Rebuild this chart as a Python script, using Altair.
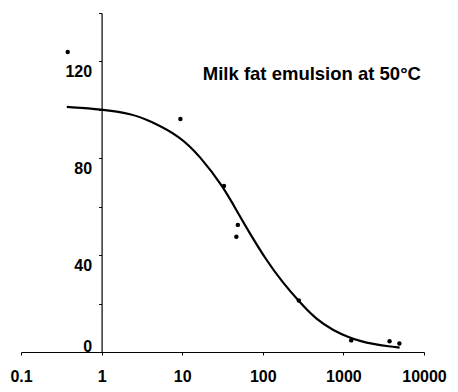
import altair as alt
import pandas as pd

# Measured points
pt_x = [0.38, 9.5, 33, 49, 47, 280, 1250, 3740, 4950]
pt_y = [123.9, 96.2, 68.6, 52.5, 47.6, 21.3, 4.8, 4.4, 3.5]

# Fitted curve
cv_x = [0.37, 1, 2.4, 3.9, 9.5, 16.4, 32, 51.5, 68.6, 110, 177, 286, 461, 741, 1194, 1588, 2322, 3737, 4980]
cv_y = [101.2, 100.3, 98.3, 95.6, 89.0, 81.0, 68.6, 56.2, 49.2, 38.0, 28.6, 20.6, 13.4, 9.0, 5.9, 4.6, 3.3, 2.3, 1.8]

x_ticks = [0.1, 1, 10, 100, 1000, 10000]
y_ticks = [0, 20, 40, 60, 80, 100, 120, 140]

title_text = ["Milk fat emulsion at 50\u00b0C"]
title_x = [18]
title_y = [115]

FONT = "Liberation Sans"

pts = pd.DataFrame({"x": pt_x, "y": pt_y})
cv = pd.DataFrame({"x": cv_x, "y": cv_y})
lab = pd.DataFrame({"x": title_x, "y": title_y, "t": title_text})

xscale = alt.Scale(type="log", domain=[0.1, 10000], nice=False)
yscale = alt.Scale(domain=[0, 140], nice=False)

xaxis = alt.Axis(
    values=x_ticks, format="~g", title=None, grid=False,
    domainColor="black", domainWidth=1.2, tickColor="black", tickSize=3,
    labelFont=FONT, labelFontSize=16, labelFontWeight="bold", labelColor="black",
    labelPadding=13, labelFlush=False, labelOverlap=False,
)
yaxis = alt.Axis(
    values=y_ticks, title=None, grid=False, offset=-80.6,
    labelExpr="(datum.value % 40 == 0 && datum.value < 140) ? datum.label : ''",
    domainColor="black", domainWidth=1.2, tickColor="black", tickSize=3,
    labelFont=FONT, labelFontSize=16, labelFontWeight="bold", labelColor="black",
    labelPadding=7, labelOffset=2,
    labelBaseline={"condition": {"test": "datum.value == 0", "value": "bottom"}, "value": "top"},
)

line = alt.Chart(cv).mark_line(color="black", strokeWidth=2.2, interpolate="basis").encode(
    x=alt.X("x:Q", scale=xscale, axis=xaxis),
    y=alt.Y("y:Q", scale=yscale, axis=yaxis),
)
dots = alt.Chart(pts).mark_circle(color="black", size=20, opacity=1).encode(
    x=alt.X("x:Q", scale=xscale),
    y=alt.Y("y:Q", scale=yscale),
)
txt = alt.Chart(lab).mark_text(
    align="left", baseline="middle", font=FONT, fontSize=18.5, fontWeight="bold", color="black"
).encode(
    x=alt.X("x:Q", scale=xscale),
    y=alt.Y("y:Q", scale=yscale),
    text="t:N",
)

chart = alt.layer(line, dots, txt).properties(
    width=403, height=339,
    autosize=alt.AutoSizeParams(type="none"),
    padding={"left": 21, "top": 13, "right": 34, "bottom": 40},
    background="white",
).configure_view(stroke=None)

chart.save("out.html", embed_options={"renderer": "svg", "actions": False})
